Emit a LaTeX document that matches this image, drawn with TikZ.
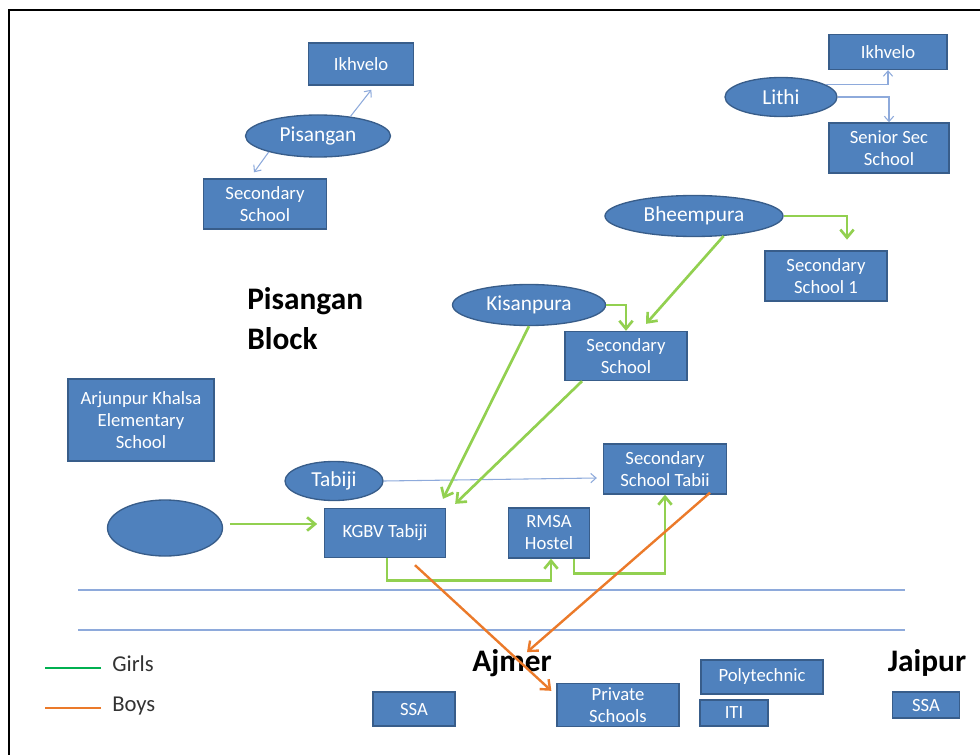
\documentclass[tikz,border=0pt]{standalone}
\usepackage{fontspec}
\setmainfont{Carlito}
\usetikzlibrary{arrows.meta,shapes.geometric}
\definecolor{boxblue}{HTML}{4F81BD}
\definecolor{boxedge}{HTML}{385D8A}
\definecolor{girlgreen}{HTML}{92D050}
\definecolor{legendgreen}{HTML}{00B050}
\definecolor{boyorange}{HTML}{EB7A2A}
\definecolor{thinblue}{HTML}{8EAADB}
\tikzset{
  sz/.style 2 args={minimum width=#1*0.75pt,minimum height=#2*0.75pt},
  school/.style={draw=boxedge,fill=boxblue,line width=1pt,text=white,inner sep=0pt,
    align=center,font=\fontsize{14}{16.5}\selectfont},
  village/.style={school,ellipse,font=\fontsize{16}{19}\selectfont},
  place/.style={inner sep=0pt,font=\bfseries\fontsize{23.5}{30}\selectfont,text=black},
  legendtext/.style={inner sep=0pt,anchor=west,font=\fontsize{17}{20}\selectfont,text=black!80},
  thinflow/.style={draw=thinblue,line width=0.8pt,-{Straight Barb[length=4pt,width=7pt]}},
  girlsflow/.style={draw=girlgreen,line width=2pt,-{Straight Barb[length=6pt,width=10pt]}},
  boysflow/.style={draw=boyorange,line width=1.8pt,-{Straight Barb[length=6pt,width=10pt]}}
}
\begin{document}
\begin{tikzpicture}[x=0.75pt,y=-0.75pt]
  \useasboundingbox (0,0) rectangle (980,755);
  \draw[line width=1.6pt] (9,755) -- (9,10) -- (980,10);
  % Pisangan
  \node[school,sz={105}{42}] (ikhl) at (361,64) {Ikhvelo};
  \node[village,sz={145}{42}] (pisangan) at (318,136) {Pisangan};
  \node[school,sz={123}{50}] (seclt) at (265,204) {Secondary\\School};
  \draw[thinflow,shorten >=2pt] (pisangan.31) -- ([shift={(12,2)}]ikhl.south);
  \draw[thinflow] (pisangan.198) -- ([shift={(-11,-6)}]seclt.north);
  % Lithi
  \node[school,sz={118}{35}] (ikhr) at (888,52) {Ikhvelo};
  \node[village,sz={112}{39}] (lithi) at (781,97) {Lithi};
  \node[school,sz={120}{50}] (senior) at (889,148) {Senior Sec\\School};
  \draw[thinflow] (lithi.15) -| (ikhr.south);
  \draw[thinflow] (lithi.east) -| (senior.north);
  % Bheempura and Kisanpura
  \node[village,sz={178}{41}] (bheem) at (694,216) {Bheempura};
  \node[school,sz={122}{50}] (ss1) at (826,276) {Secondary\\School 1};
  \node[village,sz={153}{41}] (kisan) at (529,305) {Kisanpura};
  \node[school,sz={122}{49}] (secmid) at (626,356) {Secondary\\School};
  \node[place,anchor=north west,align=left] (block) at (247,287) {Pisangan\\Block};
  \draw[girlsflow,shorten >=8pt] (bheem.east) -| ([shift={(21,0)}]ss1.north);
  \draw[girlsflow] (kisan.east) -| (secmid.north);
  \draw[girlsflow] (bheem.-34) -- ([shift={(20,-7)}]secmid.north);
  % Tabiji
  \node[school,sz={146}{82}] (arjun) at (141,420) {Arjunpur Khalsa\\Elementary\\School};
  \node[village,sz={98}{39}] (tabiji) at (334,481) {Tabiji};
  \node[school,sz={123}{50}] (sstabii) at (665,469) {Secondary\\School Tabii};
  \node[village,sz={115}{56}] (blank) at (165,528) {};
  \node[school,sz={121}{49}] (kgbv) at (385,533) {KGBV Tabiji};
  \node[school,sz={81}{50}] (rmsa) at (549,533) {RMSA\\Hostel};
  \draw[thinflow] (tabiji.east) -- ([shift={(-6,9)}]sstabii.west);
  \draw[girlsflow] (kisan.south) -- ([shift={(58,-9)}]kgbv.north);
  \draw[girlsflow] ([shift={(-44,0)}]secmid.south) -- ([shift={(9,-4)}]kgbv.north east);
  \draw[girlsflow,shorten <=5pt,shorten >=5pt] ([shift={(0,-4)}]blank.east) -- ([shift={(0,-4)}]blank.east -| kgbv.west);
  \draw[girlsflow] ([shift={(2,0)}]kgbv.south) -- ++(0,22) -| ([shift={(2,0)}]rmsa.south);
  \draw[girlsflow] ([shift={(25,0)}]rmsa.south) -- ++(0,15) -| (sstabii.south);
  % divider
  \draw[thinblue,line width=0.8pt] (78,590) -- (905,590);
  \draw[thinblue,line width=0.8pt] (78,630) -- (905,630);
  % Ajmer and Jaipur
  \node[place] (ajmer) at (512,663) {Ajmer};
  \node[place] (jaipur) at (927,663) {Jaipur};
  \node[school,sz={82}{34}] (ssal) at (414,709) {SSA};
  \node[school,sz={122}{43}] (privs) at (618,705) {Private\\Schools};
  \node[school,sz={122}{34}] (poly) at (762,677) {Polytechnic};
  \node[school,sz={68}{26}] (iti) at (734,713) {ITI};
  \node[school,sz={67}{26}] (ssaj) at (926,705) {SSA};
  \draw[boysflow] ([shift={(30,7)}]kgbv.south) -- ([shift={(-5,8)}]privs.north west);
  \draw[boysflow] ([shift={(45,-2)}]sstabii.south) -- ([shift={(15,3)}]ajmer.north);
  % legend
  \node[legendtext] (girls) at (112,664) {Girls};
  \node[legendtext] (boys) at (112,706) {Boys};
  \draw[legendgreen,line width=2pt] ([shift={(-11,4)}]girls.west) -- ++(-56,0);
  \draw[boyorange,line width=2pt] ([shift={(-11,2)}]boys.west) -- ++(-56,0);
\end{tikzpicture}
\end{document}
